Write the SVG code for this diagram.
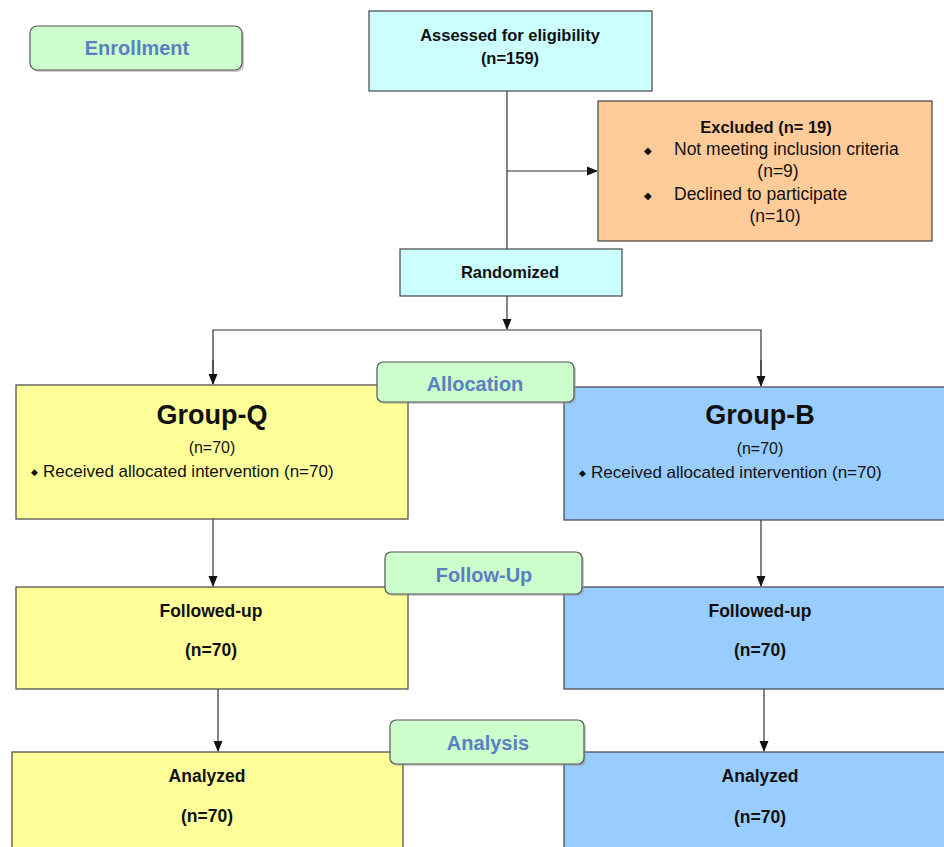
<svg xmlns="http://www.w3.org/2000/svg" width="944" height="847" viewBox="0 0 944 847">
<style>
.box{stroke:#444;stroke-width:1.2}
.cyan{fill:#ccffff}
.orange{fill:#ffcc99}
.yellow{fill:#ffff99}
.blue{fill:#99ccff}
.lab{fill:#ccffcc;stroke:#555;stroke-width:1.2}
.shadow{fill:#999;opacity:0.5}
.t{font-family:"Liberation Sans",Arial,sans-serif;fill:#111;text-anchor:middle}
.s{text-anchor:start}
.b{font-weight:bold}
.lt{font-family:"Liberation Sans",Arial,sans-serif;fill:#5b7fc0;font-size:20px;text-anchor:middle;font-weight:bold}
.con{stroke:#333;stroke-width:1.2;fill:none}
</style>
<defs>
<marker id="arr" markerWidth="11" markerHeight="11" refX="10" refY="5.5" orient="auto" markerUnits="userSpaceOnUse">
<path d="M0,1 L11,5.5 L0,10 Z" fill="#111"/>
</marker>
</defs>

<g id="connectors">
<line class="con" x1="507" y1="91" x2="507" y2="249"/>
<line class="con" x1="507" y1="171" x2="597" y2="171" marker-end="url(#arr)"/>
<line class="con" x1="507" y1="296" x2="507" y2="329" marker-end="url(#arr)"/>
<polyline class="con" points="213,384 213,330 761,330 761,384" />
<line class="con" x1="213" y1="360" x2="213" y2="384" marker-end="url(#arr)"/>
<line class="con" x1="761" y1="360" x2="761" y2="386" marker-end="url(#arr)"/>
<line class="con" x1="213" y1="519" x2="213" y2="586" marker-end="url(#arr)"/>
<line class="con" x1="761" y1="520" x2="761" y2="586" marker-end="url(#arr)"/>
<line class="con" x1="218" y1="689" x2="218" y2="751" marker-end="url(#arr)"/>
<line class="con" x1="764" y1="689" x2="764" y2="751" marker-end="url(#arr)"/>
</g>

<g id="enrollment">
<rect class="shadow" x="32" y="28" width="212" height="44" rx="7"/>
<rect class="lab" x="30" y="26" width="212" height="44" rx="7"/>
<text class="lt" x="137" y="55">Enrollment</text>
</g>

<g id="assessed">
<rect class="box cyan" x="369" y="11" width="283" height="80"/>
<text class="t b" x="510" y="41" font-size="16.5">Assessed for eligibility</text>
<text class="t b" x="510" y="64" font-size="16.5">(n=159)</text>
</g>

<g id="excluded">
<rect class="box orange" x="598" y="101" width="334" height="140"/>
<text class="t b" x="766" y="133" font-size="16.5">Excluded (n= 19)</text>
<text class="t" x="648" y="154" font-size="10">◆</text>
<text class="t s" x="674" y="155" font-size="17.5">Not meeting inclusion criteria</text>
<text class="t" x="778" y="177" font-size="17.5">(n=9)</text>
<text class="t" x="648" y="199" font-size="10">◆</text>
<text class="t s" x="674" y="200" font-size="17.5">Declined to participate</text>
<text class="t" x="775" y="222" font-size="17.5">(n=10)</text>
</g>

<g id="randomized">
<rect class="box cyan" x="400" y="249" width="222" height="47"/>
<text class="t b" x="510" y="278" font-size="16.5">Randomized</text>
</g>

<g id="groupQ">
<rect class="box yellow" x="16" y="385" width="392" height="134"/>
<text class="t b" x="212" y="424" font-size="27">Group-Q</text>
<text class="t" x="212" y="453" font-size="16">(n=70)</text>
<text class="t s" x="31" y="475" font-size="9">◆</text>
<text class="t s" x="43" y="477" font-size="17">Received allocated intervention (n=70)</text>
</g>

<g id="groupB">
<rect class="box blue" x="564" y="387" width="390" height="133"/>
<text class="t b" x="760" y="424" font-size="27">Group-B</text>
<text class="t" x="760" y="454" font-size="16">(n=70)</text>
<text class="t s" x="579" y="476" font-size="9">◆</text>
<text class="t s" x="591" y="478" font-size="17">Received allocated intervention (n=70)</text>
</g>

<g id="allocation">
<rect class="shadow" x="379" y="364" width="197" height="40" rx="6"/>
<rect class="lab" x="377" y="362" width="197" height="40" rx="6"/>
<text class="lt" x="475" y="391">Allocation</text>
</g>

<g id="followQ">
<rect class="box yellow" x="16" y="587" width="392" height="102"/>
<text class="t b" x="211" y="617" font-size="17.5">Followed-up</text>
<text class="t b" x="211" y="656" font-size="17.5">(n=70)</text>
</g>

<g id="followB">
<rect class="box blue" x="564" y="587" width="390" height="102"/>
<text class="t b" x="760" y="617" font-size="17.5">Followed-up</text>
<text class="t b" x="760" y="656" font-size="17.5">(n=70)</text>
</g>

<g id="followup">
<rect class="shadow" x="387" y="554" width="197" height="42" rx="6"/>
<rect class="lab" x="385" y="552" width="197" height="42" rx="6"/>
<text class="lt" x="484" y="582">Follow-Up</text>
</g>

<g id="analyzedQ">
<rect class="box yellow" x="12" y="752" width="391" height="110"/>
<text class="t b" x="207" y="782" font-size="17.5">Analyzed</text>
<text class="t b" x="207" y="822" font-size="17.5">(n=70)</text>
</g>

<g id="analyzedB">
<rect class="box blue" x="564" y="752" width="390" height="110"/>
<text class="t b" x="760" y="782" font-size="17.5">Analyzed</text>
<text class="t b" x="760" y="823" font-size="17.5">(n=70)</text>
</g>

<g id="analysis">
<rect class="shadow" x="392" y="722" width="194" height="44" rx="6"/>
<rect class="lab" x="390" y="720" width="194" height="44" rx="6"/>
<text class="lt" x="488" y="750">Analysis</text>
</g>
</svg>
